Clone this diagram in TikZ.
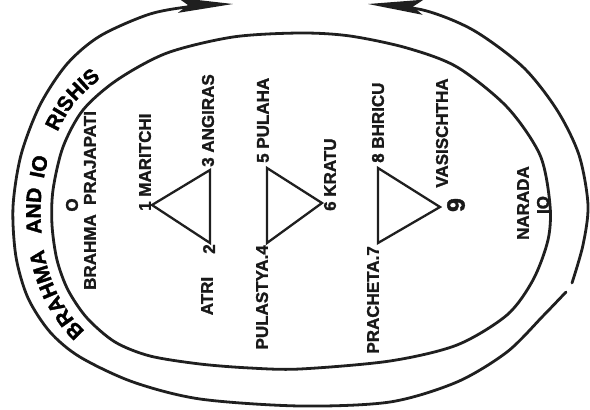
\documentclass[tikz,border=0pt]{standalone}
\usepackage{fontspec}
\setmainfont{Liberation Sans}[BoldFeatures={FakeBold=1.6}]
\usepackage{tikz}
\usetikzlibrary{arrows.meta,decorations.text}
\newcommand{\rishititle}{\fontsize{21}{21}\selectfont\bfseries}
\tikzset{
  ring/.style={line width=2.8pt, black!88, line cap=round},
  tri/.style={line width=2.3pt, black!88, line join=miter},
  rlabel/.style={rotate=90, inner sep=0pt, black!90,
                 font=\fontsize{17}{17}\selectfont\bfseries},
  biglabel/.style={rlabel, font=\fontsize{25}{25}\selectfont\bfseries},
  ringtip/.tip={Stealth[length=55pt,width=15pt,inset=10pt]},
}
\begin{document}
\begin{tikzpicture}[x=1pt, y=-1pt]
  \clip (0,0) rectangle (590,410);
  % Inner ring
  \draw[ring] plot[smooth cycle] coordinates{
    (300,33)(233,37)(167,53)(117,80)(83,110)(63,147)(53,190)(52,225)
    (57,260)(68,290)(87,318)(115,342)(150,356)(200,364)(250,368)(300,369)
    (390,361)(457,345)(507,315)(533,280)(548,240)(550,205)(540,155)
    (507,107)(457,67)(407,48)(350,36)
  };
  % Outer ring, open at the top, small break on the right
  \draw[ring, {ringtip}-] plot[smooth] coordinates{
    (233,4)(195,6)(150,14)(100,36)(67,64)(40,105)(21,155)(13,207)
    (16,257)(28,298)(50,332)(80,357)(133,382)(200,399)(300,406)
    (390,402)(457,382)(507,352)(543,316)(566,292)
  };
  \draw[ring, -{ringtip}] plot[smooth] coordinates{
    (572,283)(583,245)(588,205)(579,155)(557,110)(523,67)(473,30)
    (423,10)(368,4)
  };
  % Title along the band
  \path[
    postaction={decorate, decoration={text along path,
      text={|\rishititle|BRAHMA}, text align={left indent=30pt}}},
    postaction={decorate, decoration={text along path,
      text={|\rishititle|AND}, text align={left indent=139pt}}},
    postaction={decorate, decoration={text along path,
      text={|\rishititle|IO}, text align={left indent=194pt}}},
    postaction={decorate, decoration={text along path,
      text={|\rishititle|RISHIS}, text align={left indent=243pt}}}]
    plot[smooth] coordinates{
      (107.9,350.4)(77.9,324)(57.7,293.9)(46.1,261.5)(41,225)(42.1,188.4)
      (53.2,142)(74.9,102.6)(111.2,70.7)(163.7,42.5)
    };
  % Brahma
  \node[rlabel] (zero) at (72,205) {O};
  \node[rlabel] (brahma) at (90,252) {BRAHMA};
  \node[rlabel] (prajapati) at (90,158) {PRAJAPATI};
  % First triangle
  \coordinate (v1) at (152,205);
  \coordinate (v3) at (210,170);
  \coordinate (v2) at (210,243);
  \draw[tri] (v1) -- (v3) -- (v2) -- cycle;
  \node[rlabel, anchor=west] (maritchi) at (145,211) {1 MARITCHI};
  \node[rlabel, anchor=west] (angiras) at (208,167) {3 ANGIRAS};
  \node[rlabel] (atri) at (207,296) {ATRI};
  \node[rlabel] (two) at (209,249) {2};
  % Second triangle
  \coordinate (v5) at (267,168);
  \coordinate (v4) at (267,243);
  \coordinate (v6) at (322,203);
  \draw[tri] (v5) -- (v6) -- (v4) -- cycle;
  \node[rlabel, anchor=west] (pulaha) at (263,163) {5 PULAHA};
  \node[rlabel, anchor=west] (kratu) at (330,211) {6 KRATU};
  \node[rlabel, anchor=east] (pulastya) at (262,245) {PULASTYA.4};
  % Third triangle
  \coordinate (v8) at (378,168);
  \coordinate (v7) at (378,243);
  \coordinate (v9) at (440,207);
  \draw[tri] (v8) -- (v9) -- (v7) -- cycle;
  \node[rlabel, anchor=west] (bhricu) at (378,163) {8 BHRICU};
  \node[rlabel] (vasischtha) at (442,133) {VASISCHTHA};
  \node[biglabel] (nine) at (456,205) {9};
  \node[rlabel, anchor=east] (pracheta) at (373,246) {PRACHETA.7};
  % Narada
  \node[rlabel] (narada) at (523,203) {NARADA};
  \node[rlabel] (ten) at (543,205) {IO};
\end{tikzpicture}
\end{document}
